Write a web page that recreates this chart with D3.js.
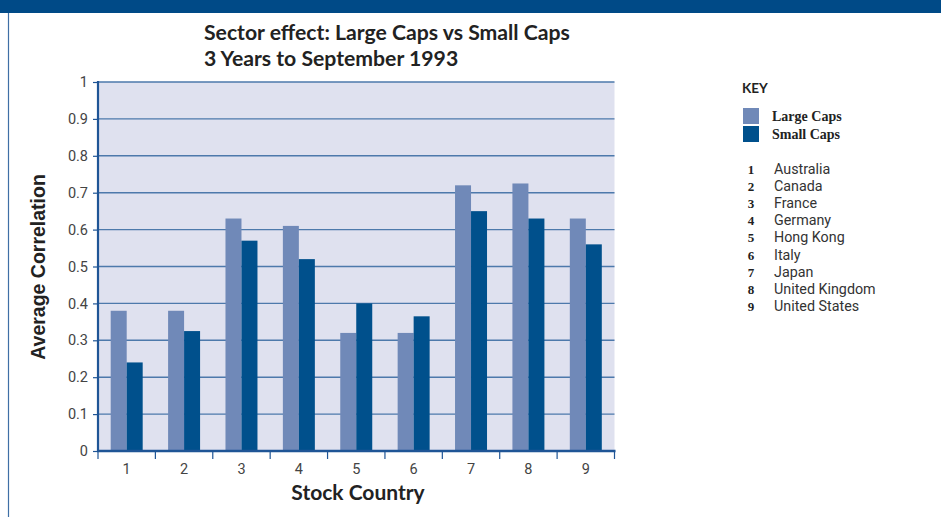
<!DOCTYPE html>
<html>
<head>
<meta charset="utf-8">
<script src="https://cdn.jsdelivr.net/npm/d3@7"></script>
<style>
  html, body { margin: 0; padding: 0; background: #fff; }
  svg { display: block; }
</style>
</head>
<body>
<svg id="chart" width="941" height="517"></svg>
<script>
// Stock countries (category codes) and their names for the key
const categories = ["1", "2", "3", "4", "5", "6", "7", "8", "9"];
const countryNames = ["Australia", "Canada", "France", "Germany", "Hong Kong", "Italy", "Japan", "United Kingdom", "United States"];
// Average correlation, 3 years to September 1993
const largeCaps = [0.38, 0.38, 0.63, 0.61, 0.32, 0.32, 0.72, 0.725, 0.63];
const smallCaps = [0.24, 0.325, 0.57, 0.52, 0.40, 0.365, 0.65, 0.63, 0.56];
const seriesNames = ["Large Caps", "Small Caps"];
const yTicks = [0, 0.1, 0.2, 0.3, 0.4, 0.5, 0.6, 0.7, 0.8, 0.9, 1];

const colors = { "Large Caps": "#7089b8", "Small Caps": "#00508c" };
const svg = d3.select("#chart");

// Header band and left rule
svg.append("rect").attr("x", 0).attr("y", 0).attr("width", 941).attr("height", 13).attr("fill", "#004a87");
svg.append("line").attr("x1", 8.5).attr("x2", 8.5).attr("y1", 13).attr("y2", 517)
  .attr("stroke", "#3f6fa5").attr("stroke-width", 1.2);

const plot = { left: 98, right: 614.5, top: 82, bottom: 451 };

const x0 = d3.scaleBand().domain(categories).range([plot.left, plot.right]).padding(0);
const x1 = d3.scaleBand().domain(seriesNames).range([0, x0.bandwidth()])
  .paddingInner(0).paddingOuter(0.794);
const y = d3.scaleLinear().domain([0, 1]).range([plot.bottom, plot.top]);

// Plot background
svg.append("rect").attr("x", plot.left).attr("y", plot.top)
  .attr("width", plot.right - plot.left).attr("height", plot.bottom - plot.top)
  .attr("fill", "#dfe1ef");

// Gridlines
svg.append("g").selectAll("line").data(yTicks.filter(d => d > 0)).join("line")
  .attr("x1", plot.left).attr("x2", plot.right)
  .attr("y1", d => y(d)).attr("y2", d => y(d))
  .attr("stroke", "#4d79ab").attr("stroke-width", 1.4);

// Bars
const rows = categories.map((c, i) => ({ c, values: [
  { s: "Large Caps", v: largeCaps[i] },
  { s: "Small Caps", v: smallCaps[i] }
]}));
const groups = svg.append("g").selectAll("g").data(rows).join("g")
  .attr("transform", d => `translate(${x0(d.c)},0)`);
groups.selectAll("rect").data(d => d.values).join("rect")
  .attr("x", d => x1(d.s)).attr("width", x1.bandwidth())
  .attr("y", d => y(d.v)).attr("height", d => y(0) - y(d.v))
  .attr("fill", d => colors[d.s]);

// Y axis
const yAxis = svg.append("g").attr("transform", `translate(${plot.left},0)`)
  .call(d3.axisLeft(y).tickValues(yTicks).tickFormat(d3.format("~g")).tickSize(5).tickPadding(5));
yAxis.select(".domain").attr("stroke", "#1f5596").attr("stroke-width", 2.2)
  .attr("d", `M0,${plot.top - 1}V${plot.bottom + 1}`);
yAxis.selectAll(".tick line").attr("stroke", "#1f5596").attr("stroke-width", 1.2);
yAxis.selectAll(".tick text").attr("fill", "#444").attr("font-family", "Roboto, sans-serif").attr("font-size", 14.5);

// X axis: ticks at band boundaries, labels at band centres
const xg = svg.append("g").attr("transform", `translate(0,${plot.bottom})`);
xg.append("line").attr("x1", plot.left - 1).attr("x2", plot.right + 1).attr("y1", 0).attr("y2", 0)
  .attr("stroke", "#1f5596").attr("stroke-width", 2.4);
const bounds = categories.map(c => x0(c)).concat([x0(categories[categories.length - 1]) + x0.bandwidth()]);
xg.selectAll("line.tk").data(bounds).join("line").attr("class", "tk")
  .attr("x1", d => d).attr("x2", d => d).attr("y1", 0).attr("y2", 8)
  .attr("stroke", "#1f5596").attr("stroke-width", 1.2);
xg.selectAll("text").data(categories).join("text")
  .attr("x", d => x0(d) + x0.bandwidth() / 2).attr("y", 23)
  .attr("text-anchor", "middle").attr("fill", "#444")
  .attr("font-family", "Roboto, sans-serif").attr("font-size", 14.5)
  .text(d => d);

// Titles
const title = svg.append("g").attr("font-family", "Lato, sans-serif").attr("font-weight", "bold")
  .attr("font-size", 21.2).attr("fill", "#222");
title.append("text").attr("x", 204).attr("y", 40).text("Sector effect: Large Caps vs Small Caps");
title.append("text").attr("x", 204).attr("y", 66).text("3 Years to September 1993");

svg.append("text").attr("transform", "translate(45,267) rotate(-90)")
  .attr("text-anchor", "middle").attr("fill", "#222")
  .attr("font-family", "Liberation Sans, Arial, sans-serif").attr("font-weight", "bold").attr("font-size", 19.5)
  .text("Average Correlation");

svg.append("text").attr("x", 358).attr("y", 500).attr("text-anchor", "middle").attr("fill", "#222")
  .attr("font-family", "Lato, sans-serif").attr("font-weight", "bold").attr("font-size", 21)
  .text("Stock Country");

// Key
const key = svg.append("g");
key.append("text").attr("x", 742).attr("y", 93).attr("fill", "#222")
  .attr("font-family", "Lato, sans-serif").attr("font-weight", "bold").attr("font-size", 13.5).text("KEY");
seriesNames.forEach((s, i) => {
  key.append("rect").attr("x", 743).attr("y", 108 + i * 18).attr("width", 16).attr("height", 16).attr("fill", colors[s]);
  key.append("text").attr("x", 772).attr("y", 121 + i * 18).attr("fill", "#222")
    .attr("font-family", "Liberation Serif, serif").attr("font-weight", "bold").attr("font-size", 14).text(s);
});
categories.forEach((c, i) => {
  const yy = 174 + i * 17.1;
  key.append("text").attr("x", 751).attr("y", yy).attr("text-anchor", "middle").attr("fill", "#222")
    .attr("font-family", "Liberation Serif, serif").attr("font-weight", "bold").attr("font-size", 13).text(c);
  key.append("text").attr("x", 774).attr("y", yy).attr("fill", "#333")
    .attr("font-family", "Roboto, sans-serif").attr("font-size", 14.3).text(countryNames[i]);
});
</script>
</body>
</html>
